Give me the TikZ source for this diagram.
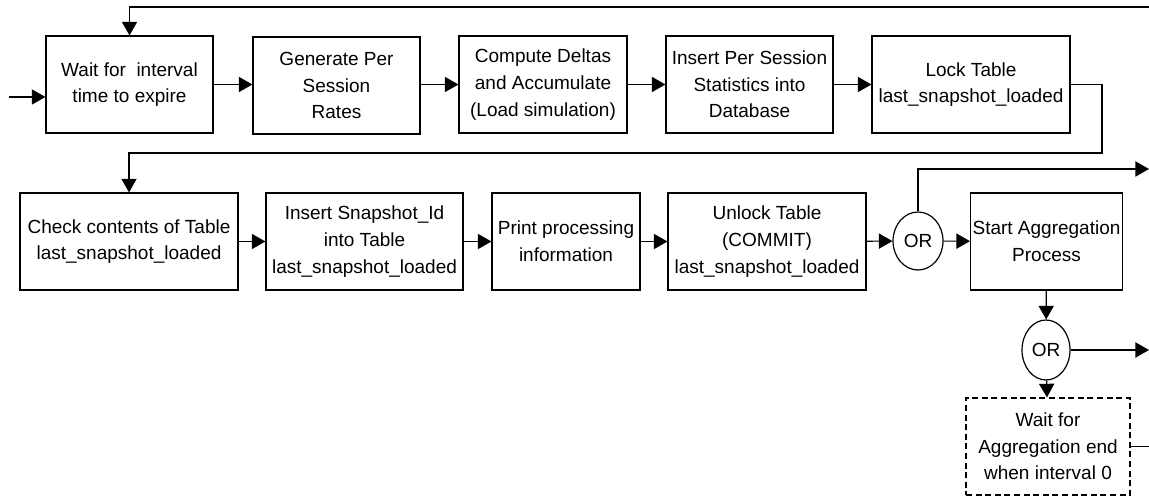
\documentclass[tikz,border=0pt]{standalone}
\usepackage{fontspec}
\setmainfont{Liberation Sans}
\usetikzlibrary{arrows.meta,shapes.geometric}
\begin{document}
\begin{tikzpicture}[x=0.5pt,y=-0.5pt,
  stepbox/.style={draw, line width=0.6pt, align=center, inner sep=1pt,
    minimum height=48.5pt, font=\fontsize{9.5}{13.3}\selectfont},
  orgate/.style={draw, ellipse, line width=0.6pt, inner sep=0pt,
    font=\fontsize{9.5}{13.3}\selectfont},
  flow/.style={line width=0.6pt, -{Triangle[length=6.8pt,width=7.6pt]}},
  plain/.style={line width=0.6pt}]
\useasboundingbox (0,0) rectangle (1149,496);

% first row
\node[stepbox, minimum width=83.5pt] (b1) at (129.5,84.5) {Wait for \ interval\\time to expire};
\node[stepbox, minimum width=83.5pt] (b2) at (336.5,85.5) {Generate Per\\Session\\Rates};
\node[stepbox, minimum width=84pt]   (b3) at (543,84.5)   {Compute Deltas\\and Accumulate\\(Load simulation)};
\node[stepbox, minimum width=83.5pt] (b4) at (749.5,84.5) {Insert Per Session\\Statistics into\\Database};
\node[stepbox, minimum width=99pt]   (b5) at (971,84.5)   {Lock Table\\last\_snapshot\_loaded};

% second row
\node[stepbox, minimum width=109pt]  (m1) at (129,241.5)  {Check contents of Table\\last\_snapshot\_loaded};
\node[stepbox, minimum width=98.5pt] (m2) at (364.5,241.5) {Insert Snapshot\_Id\\into Table\\last\_snapshot\_loaded};
\node[stepbox, minimum width=74pt]   (m3) at (566,241.5)  {Print processing\\information};
\node[stepbox, minimum width=99pt]   (m4) at (767,241.5)  {Unlock Table\\(COMMIT)\\last\_snapshot\_loaded};
\node[orgate, minimum width=25pt, minimum height=29pt] (or1) at (918,241) {OR};
\node[stepbox, minimum width=75.5pt] (agg) at (1046.5,241.5) {Start Aggregation\\Process};

% aggregation branch
\node[orgate, minimum width=24pt, minimum height=30pt] (or2) at (1046,350) {OR};
\node[stepbox, dash pattern=on 3pt off 1.8pt, minimum width=82pt] (wait) at (1048,446.5)
  {Wait for\\Aggregation end\\when interval 0};

% free ends
\coordinate (entry) at (9,97);
\coordinate (loopin) at (1149,7);
\coordinate (down) at (1102,153);
\coordinate (out1) at (1149,169);

% connectors
\draw[flow] (entry) -- (b1.west |- entry);
\draw[flow] (loopin) -| (b1.north);
\draw[flow] (b1) -- (b2.west |- b1);
\draw[flow] (b2.east |- b3) -- (b3);
\draw[flow] (b3) -- (b4);
\draw[flow] (b4) -- (b5);
\draw[flow] (b5.east) -| (down) -| (m1.north);
\draw[flow] (m1) -- (m2);
\draw[flow] (m2) -- (m3);
\draw[flow] (m3) -- (m4);
\draw[flow] (m4) -- (or1);
\draw[flow] (or1) -- (agg);
\draw[flow] (or1.north) |- (out1);
\draw[flow] (agg) -- (or2);
\draw[flow] (or2.east) -- (or2.east -| out1);
\draw[flow] (or2) -- (wait);
\draw[plain] (wait.east) -- (wait.east -| out1);
\end{tikzpicture}
\end{document}
